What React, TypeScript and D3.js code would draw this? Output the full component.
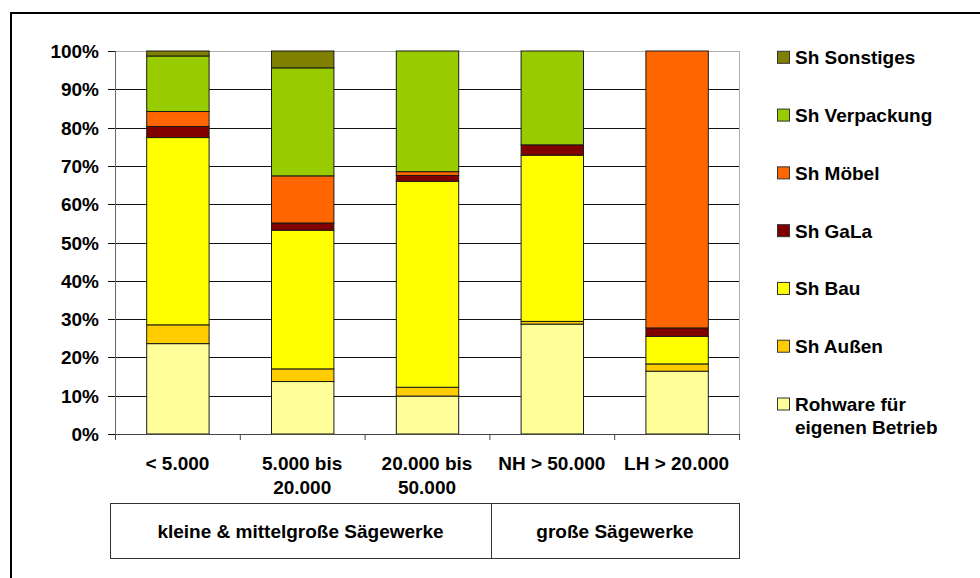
import React from "react";
import * as d3 from "d3";

const categories = ["< 5.000", "5.000 bis 20.000", "20.000 bis 50.000", "NH > 50.000", "LH > 20.000"];
const categoryLines = [["< 5.000"], ["5.000 bis", "20.000"], ["20.000 bis", "50.000"], ["NH > 50.000"], ["LH > 20.000"]];
const seriesNames = ["Rohware für eigenen Betrieb", "Sh Außen", "Sh Bau", "Sh GaLa", "Sh Möbel", "Sh Verpackung", "Sh Sonstiges"];
const seriesColors = ["#FFFF99", "#FFCC00", "#FFFF00", "#800000", "#FF6600", "#99CC00", "#808000"];

const rohware = [23.6, 13.7, 9.9, 28.7, 16.4];
const aussen = [4.9, 3.3, 2.3, 0.7, 1.9];
const bau = [48.9, 36.2, 53.8, 43.4, 7.2];
const gala = [2.9, 1.9, 1.5, 2.7, 2.2];
const moebel = [3.9, 12.3, 1.0, 0, 72.3];
const verpackung = [14.5, 28.2, 31.5, 24.5, 0];
const sonstiges = [1.3, 4.4, 0, 0, 0];

const yTicks = [0, 10, 20, 30, 40, 50, 60, 70, 80, 90, 100];
const groups = [
  { label: "kleine & mittelgroße Sägewerke", from: 0, to: 3 },
  { label: "große Sägewerke", from: 3, to: 5 },
];

const FONT = "'Liberation Sans', Arial, Helvetica, sans-serif";

export default function App() {
  const W = 980, H = 578;
  const x = d3.scaleBand<string>().domain(categories).range([115, 739]).paddingInner(0.5).paddingOuter(0.25);
  const y = d3.scaleLinear().domain([0, 100]).range([434, 51]);
  const step = x.step();
  const boundary = (i: number) => 115 + i * step;

  const seriesData = [rohware, aussen, bau, gala, moebel, verpackung, sonstiges];
  const rows = categories.map((c, i) => {
    const r: any = { cat: c };
    seriesNames.forEach((s, k) => (r[s] = seriesData[k][i]));
    return r;
  });
  const stacked = d3.stack<any>().keys(seriesNames)(rows);

  const legendOrder = [...seriesNames].reverse();
  const legendY = d3.scaleLinear().domain([0, 6]).range([57.3, 404]);

  const tableLeft = 110, tableRight = 739, divider = 491;
  const groupX = (g: { from: number; to: number }) => [
    g.from === 0 ? tableLeft : divider,
    g.to === categories.length ? tableRight : divider,
  ];

  return (
    <svg width={W} height={H} style={{ position: "absolute", left: 0, top: 0, background: "#fff" }} fontFamily={FONT}>
      <rect x={0} y={0} width={W} height={H} fill="#fff" />
      {/* outer frame */}
      <line x1={11} y1={13} x2={W} y2={13} stroke="#000" strokeWidth={2} />
      <line x1={11} y1={12} x2={11} y2={H} stroke="#000" strokeWidth={2} />

      {/* plot border top/right */}
      <line x1={115} y1={y(100) + 0.5} x2={739.5} y2={y(100) + 0.5} stroke="#b0b0b0" />
      <line x1={739.5} y1={y(100)} x2={739.5} y2={y(0)} stroke="#b0b0b0" />

      {/* gridlines */}
      {yTicks.filter((t) => t > 0 && t < 100).map((t) => (
        <line key={t} x1={115} x2={739} y1={Math.round(y(t)) + 0.5} y2={Math.round(y(t)) + 0.5} stroke="#111" strokeWidth={1} />
      ))}

      {/* bars */}
      {stacked.map((layer, k) => (
        <g key={layer.key} fill={seriesColors[k]}>
          {layer.map((d, i) =>
            d[1] - d[0] > 0 ? (
              <rect
                key={i}
                x={(x(categories[i]) as number) + 0.5}
                y={y(d[1])}
                width={x.bandwidth()}
                height={y(d[0]) - y(d[1])}
                stroke="#1a1a1a"
                strokeWidth={1}
              />
            ) : null
          )}
        </g>
      ))}

      {/* y axis */}
      <line x1={115.5} x2={115.5} y1={y(100)} y2={y(0) + 6} stroke="#666" />
      {yTicks.map((t) => (
        <g key={t}>
          <line x1={108} x2={115} y1={Math.round(y(t)) + 0.5} y2={Math.round(y(t)) + 0.5} stroke="#111" />
          <text x={99} y={y(t) + 7} textAnchor="end" fontSize={19} fontWeight="bold" fill="#000">
            {t}%
          </text>
        </g>
      ))}

      {/* x axis */}
      <line x1={115} x2={740} y1={434.5} y2={434.5} stroke="#444" />
      {d3.range(categories.length + 1).map((i) => (
        <line key={i} x1={boundary(i) + 0.5} x2={boundary(i) + 0.5} y1={434} y2={440} stroke="#444" />
      ))}
      {categoryLines.map((lines, i) => (
        <text key={i} textAnchor="middle" fontSize={19} fontWeight="bold" fill="#000">
          {lines.map((ln, j) => (
            <tspan key={j} x={(x(categories[i]) as number) + x.bandwidth() / 2} y={470 + j * 24}>
              {ln}
            </tspan>
          ))}
        </text>
      ))}

      {/* group table */}
      <rect x={tableLeft + 0.5} y={503.5} width={tableRight - tableLeft} height={55} fill="none" stroke="#333" />
      <line x1={divider + 0.5} x2={divider + 0.5} y1={503.5} y2={558.5} stroke="#333" />
      {groups.map((g) => {
        const [x0, x1] = groupX(g);
        return (
          <text key={g.label} x={(x0 + x1) / 2} y={538} textAnchor="middle" fontSize={19} fontWeight="bold" fill="#000">
            {g.label}
          </text>
        );
      })}

      {/* legend */}
      {legendOrder.map((name, i) => {
        const k = seriesNames.indexOf(name);
        const cy = legendY(i);
        const lines = name === "Rohware für eigenen Betrieb" ? ["Rohware für", "eigenen Betrieb"] : [name];
        return (
          <g key={name}>
            <rect x={777.5} y={cy - 6} width={12} height={12} fill={seriesColors[k]} stroke="#333" />
            <text fontSize={19} fontWeight="bold" fill="#000">
              {lines.map((ln, j) => (
                <tspan key={j} x={795} y={cy + 7 + j * 22.5}>
                  {ln}
                </tspan>
              ))}
            </text>
          </g>
        );
      })}
    </svg>
  );
}
